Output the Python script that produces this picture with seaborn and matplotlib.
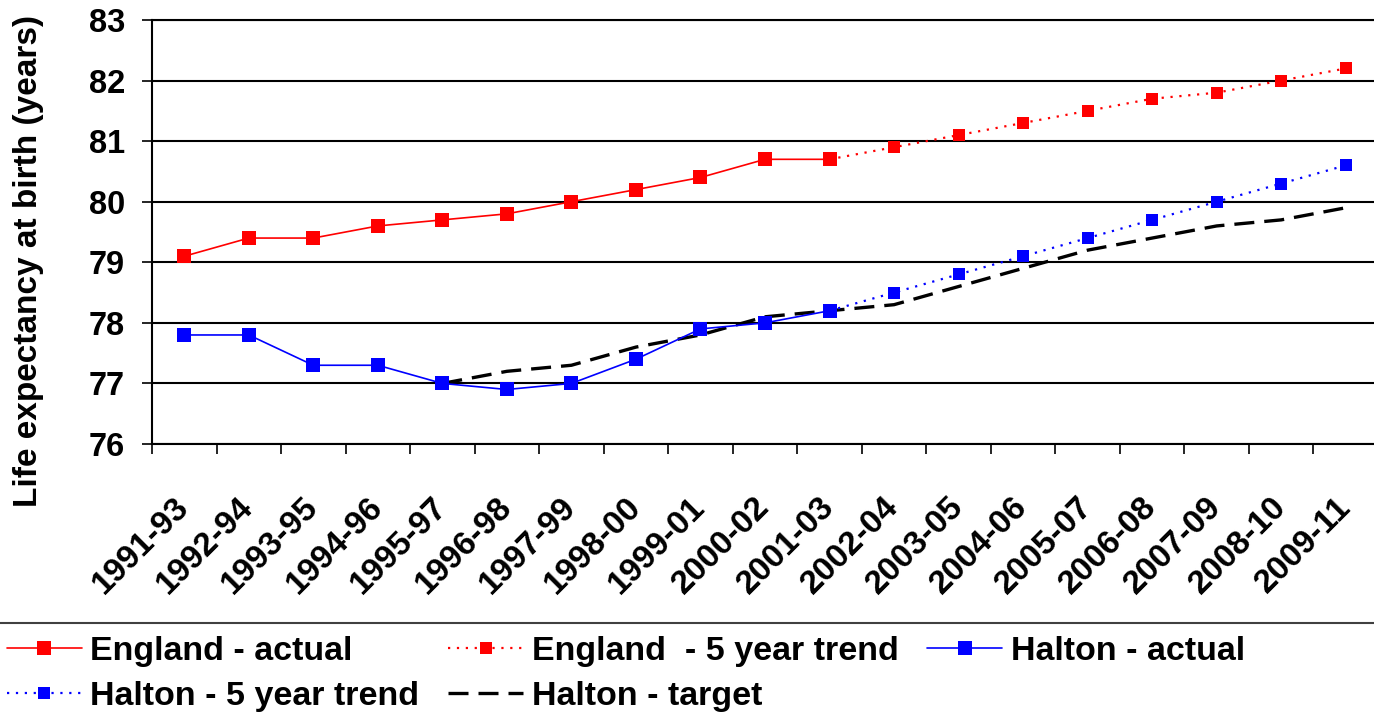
import matplotlib
matplotlib.use("Agg")
import matplotlib.pyplot as plt
import matplotlib.transforms as mtransforms
from matplotlib.lines import Line2D
import numpy as np
import pandas as pd
import seaborn as sns

# --- Data ---
periods = ["1991-93", "1992-94", "1993-95", "1994-96", "1995-97", "1996-98",
           "1997-99", "1998-00", "1999-01", "2000-02", "2001-03", "2002-04",
           "2003-05", "2004-06", "2005-07", "2006-08", "2007-09", "2008-10",
           "2009-11"]

england_actual = [79.1, 79.4, 79.4, 79.6, 79.7, 79.8, 80.0, 80.2, 80.4, 80.7, 80.7]
england_trend = [80.7, 80.9, 81.1, 81.3, 81.5, 81.7, 81.8, 82.0, 82.2]      # from 2001-03
halton_actual = [77.8, 77.8, 77.3, 77.3, 77.0, 76.9, 77.0, 77.4, 77.9, 78.0, 78.2]
halton_trend = [78.2, 78.5, 78.8, 79.1, 79.4, 79.7, 80.0, 80.3, 80.6]      # from 2001-03
halton_target = [77.0, 77.2, 77.3, 77.6, 77.8, 78.1, 78.2, 78.3, 78.6, 78.9,
                 79.2, 79.4, 79.6, 79.7, 79.9]                               # from 1995-97

series_start = {
    "England - actual": 0,
    "England  - 5 year trend": 10,
    "Halton - actual": 0,
    "Halton - 5 year trend": 10,
    "Halton - target": 4,
}
series_values = {
    "England - actual": england_actual,
    "England  - 5 year trend": england_trend,
    "Halton - actual": halton_actual,
    "Halton - 5 year trend": halton_trend,
    "Halton - target": halton_target,
}

rows = []
for name, vals in series_values.items():
    start = series_start[name]
    for i, v in enumerate(vals):
        rows.append({"series": name, "pos": start + i,
                     "period": periods[start + i], "value": v})
df = pd.DataFrame(rows)

# --- Styles ---
styles = {
    "England - actual": dict(color="#ff0000", linestyle="-", lw=1.2, marker="s", ms=10),
    "England  - 5 year trend": dict(color="#ff0000", linestyle=(0, (1, 3)), lw=1.6, marker="s", ms=8.5),
    "Halton - actual": dict(color="#0000ff", linestyle="-", lw=1.2, marker="s", ms=10),
    "Halton - 5 year trend": dict(color="#0000ff", linestyle=(0, (1, 3)), lw=1.6, marker="s", ms=8.5),
    "Halton - target": dict(color="black", linestyle=(0, (6, 3)), lw=2.4, marker=None, ms=0),
}

sns.set_style("white")
plt.rcParams["font.family"] = ["Liberation Sans", "DejaVu Sans"]
plt.rcParams["font.weight"] = "bold"
plt.rcParams["text.color"] = "black"
plt.rcParams["axes.labelcolor"] = "black"
plt.rcParams["xtick.color"] = "black"
plt.rcParams["ytick.color"] = "black"

W, H = 1374, 717
fig = plt.figure(figsize=(W / 100, H / 100), dpi=100)
ax = fig.add_axes([152 / W, 1 - 444 / H, 1226 / W, 424 / H])

draw_order = ["Halton - target", "England - actual", "England  - 5 year trend",
              "Halton - actual", "Halton - 5 year trend"]
for name in draw_order:
    st = styles[name]
    sub = df[df["series"] == name]
    sns.lineplot(data=sub, x="pos", y="value", ax=ax, label=name,
                 color=st["color"], linestyle=st["linestyle"], linewidth=st["lw"],
                 marker=st["marker"], markersize=st["ms"],
                 markeredgecolor=st["color"], markeredgewidth=0,
                 legend=False)

# --- Axes ---
ax.set_xlim(-0.5, len(periods) - 0.5)
ax.set_ylim(76, 83)
ax.set_yticks(np.arange(76, 84, 1))
ax.set_xticks(np.arange(len(periods)))
ax.set_xticklabels(periods, rotation=45, ha="right", va="center",
                   rotation_mode="anchor", fontsize=24, fontweight="bold",
                   color="black")
# shift the slanted labels a little to the left, as in the original
shift = mtransforms.ScaledTranslation(-20 / 100, 0, fig.dpi_scale_trans)
for lab in ax.get_xticklabels():
    lab.set_transform(lab.get_transform() + shift)
ax.set_xticks(np.arange(len(periods) + 1) - 0.5, minor=True)
ax.tick_params(axis="x", which="major", length=0, pad=42)
ax.tick_params(axis="x", which="minor", length=7.5, width=1.2, color="black",
               direction="out", bottom=True)
ax.tick_params(axis="y", which="major", length=7.5, width=1.2, color="black",
               direction="out", left=True, labelsize=23.5, pad=12,
               labelcolor="black")
for lab in ax.get_yticklabels():
    lab.set_fontweight("bold")

ax.grid(axis="y", color="black", linewidth=1.5)
ax.grid(axis="x", visible=False)
ax.set_axisbelow(True)
for side in ["left", "bottom", "top"]:
    ax.spines[side].set_color("black")
    ax.spines[side].set_linewidth(1.5)
ax.spines["right"].set_visible(False)

ax.set_xlabel("")
ax.set_ylabel("Life expectancy at birth (years)", fontsize=24, fontweight="bold",
              color="black")
ax.yaxis.label.set_verticalalignment("center")
ax.yaxis.set_label_coords((29 - 152) / 1226, (444 - 261) / 424)

# --- Legend below, with a separator line ---
handles, labels = ax.get_legend_handles_labels()
hmap = dict(zip(labels, handles))
order = ["England - actual", "Halton - 5 year trend", "England  - 5 year trend",
         "Halton - target", "Halton - actual"]
fig.legend([hmap[k] for k in order], order, loc="upper left",
           bbox_to_anchor=(7 / W, 1 - 636 / H), ncol=3, frameon=False,
           borderpad=0, borderaxespad=0, handlelength=2.2, handletextpad=0.25,
           columnspacing=0.85, labelspacing=0.42,
           prop={"size": 24.5, "weight": "bold"}, labelcolor="black")
fig.add_artist(Line2D([0, 1], [1 - 623 / H] * 2, transform=fig.transFigure,
                      color="#404040", linewidth=1.5))

fig.savefig("out.png", dpi=100)
